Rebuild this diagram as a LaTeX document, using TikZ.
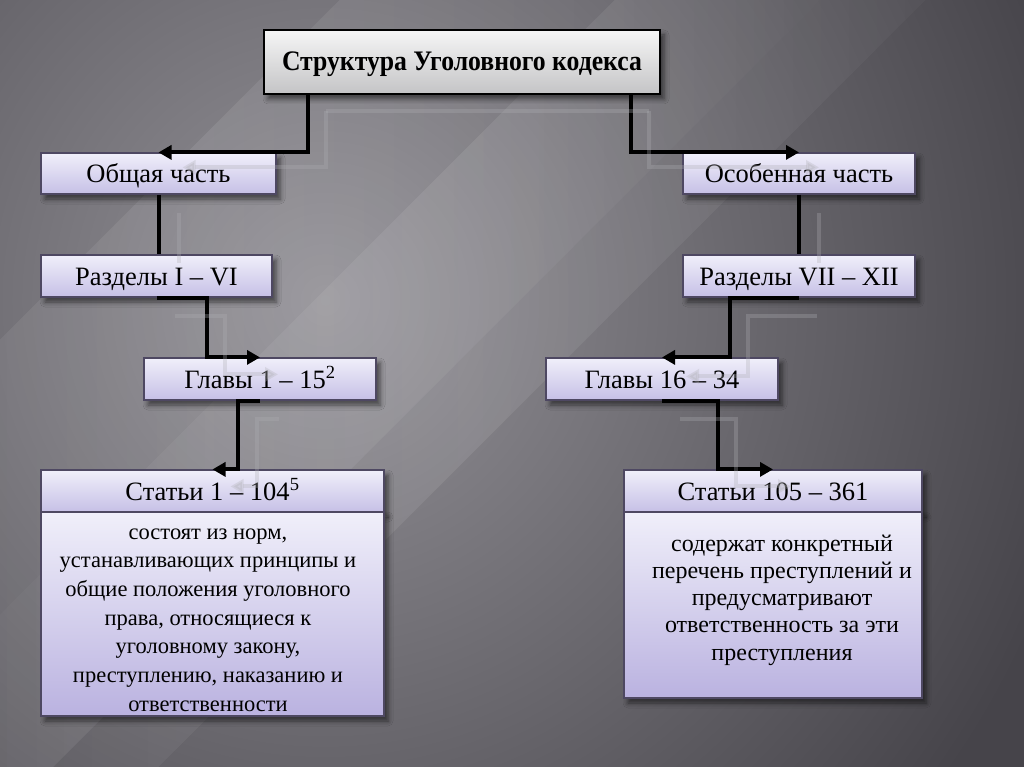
\documentclass[tikz,border=0pt]{standalone}
\usepackage{fontspec}
\setmainfont{Liberation Serif}
\usetikzlibrary{arrows.meta,shadows.blur,calc,fadings}
\definecolor{bgout}{RGB}{70,68,74}
\definecolor{bgin}{RGB}{148,146,152}
\definecolor{lavtop}{RGB}{240,239,250}
\definecolor{lavbot}{RGB}{198,192,230}
\definecolor{lavbot2}{RGB}{186,178,224}
\definecolor{boxedge}{RGB}{78,72,98}
\definecolor{shadline}{RGB}{175,175,180}
\definecolor{titletop}{RGB}{246,246,246}
\definecolor{titlebot}{RGB}{196,196,198}
\tikzfading[name=bandfade, left color=transparent!100, right color=transparent!100, middle color=transparent!91]
\begin{document}
\begin{tikzpicture}[x=1pt,y=-1pt,
  bshadow/.style={blur shadow={shadow xshift=4pt,shadow yshift=-5pt,shadow blur radius=5pt,shadow opacity=55}},
  lav/.style={draw=boxedge, line width=1.2pt, top color=lavtop, bottom color=lavbot, inner sep=0pt, text=black, font=\fontsize{26.5}{30}\selectfont, text height=24pt, text depth=6pt, bshadow},
  lavbody/.style={draw=boxedge, line width=1.2pt, top color=lavtop, bottom color=lavbot2, inner sep=0pt, bshadow},
  bodytext/.style={inner sep=0pt, text=black, align=center},
  titlebox/.style={draw=black, line width=2pt, top color=titletop, bottom color=titlebot, inner sep=0pt, font=\fontsize{25.7}{30}\selectfont\bfseries, text height=24pt, text depth=6pt, bshadow},
  conn/.style={line width=4pt, draw=black, line join=miter, -{Triangle[length=13pt,width=14pt]}},
  plainconn/.style={line width=4pt, draw=black},
  shad/.style={line width=4pt, draw=shadline, opacity=0.3, line join=miter, -{Triangle[length=13pt,width=14pt]}},
  shadplain/.style={line width=4pt, draw=shadline, opacity=0.3}
]
\useasboundingbox (0,0) rectangle (1024,767);
\begin{scope}
\clip (0,0) rectangle (1024,767);
\shade[inner color=bgin, outer color=bgout] (-450,-500) rectangle (1100,1100);
\begin{scope}[shift={(200,380)}, rotate=-45]
\fill[white, path fading=bandfade, fit fading=true] (-170,-800) rectangle (170,800);
\end{scope}
\begin{scope}[shift={(470,300)}, rotate=-45]
\fill[white, path fading=bandfade, fit fading=true] (-110,-800) rectangle (110,800);
\end{scope}
\end{scope}

% nodes
\node[titlebox, minimum width=396pt, minimum height=64pt] (title) at (462,62) {\scalebox{1}[1.1]{Структура Уголовного кодекса}};
\node[lav, minimum width=235pt, minimum height=41pt] (obsh) at (158.5,173.5) {Общая часть};
\node[lav, minimum width=232pt, minimum height=41pt] (osob) at (799,173.5) {Особенная часть};
\node[lav, minimum width=231pt, minimum height=42pt] (razL) at (156.5,276) {Разделы I – VI};
\node[lav, minimum width=232pt, minimum height=42pt] (razR) at (799,276) {Разделы VII – XII};
\node[lav, minimum width=232pt, minimum height=42pt] (glL) at (260,379) {Главы 1 – 15\textsuperscript{2}};
\node[lav, minimum width=232pt, minimum height=42pt] (glR) at (662,379) {Главы 16 – 34};
\node[lav, minimum width=343pt, minimum height=42pt] (stLh) at (212.5,491) {Статьи 1 – 104\textsuperscript{5}};
\node[lavbody, minimum width=343pt, minimum height=204pt] (stLb) at (212.5,614) {};
\node[bodytext, font=\fontsize{22.5}{28.7}\selectfont] (stLt) at (208,620) {состоят из норм,\\устанавливающих принципы и\\общие положения уголовного\\права, относящиеся к\\уголовному закону,\\преступлению, наказанию и\\ответственности};
\node[lav, minimum width=298pt, minimum height=42pt] (stRh) at (773,491) {Статьи 105 – 361};
\node[lavbody, minimum width=298pt, minimum height=186pt] (stRb) at (773,605) {};
\node[bodytext, font=\fontsize{24}{27.3}\selectfont] (stRt) at (782,600) {содержат конкретный\\перечень преступлений и\\предусматривают\\ответственность за эти\\преступления};

% connectors
\draw[conn] ([xshift=45pt]title.south west) |- (obsh.north);
\draw[conn] ([xshift=-30pt]title.south east) |- (osob.north);
\draw[plainconn] (obsh.south) -- (obsh.south |- razL.north);
\draw[plainconn] (osob.south) -- (osob.south |- razR.north);
\draw[conn] (razL.south) -- ++(50,0) |- (glL.north);
\draw[conn] (glL.south) -- ++(-22,0) |- (stLh.north);
\draw[conn] (razR.south) -- ++(-69,0) |- (glR.north);
\draw[conn] (glR.south) -- ++(56,0) |- (stRh.north);

% connector shadows
\coordinate (tsl) at ($(title.south west)+(63,16)$);
\coordinate (tsr) at ($(title.south east)+(-12,16)$);
\draw[shadplain] (tsl) -- (tsr);
\draw[shad] (tsl) |- ([shift={(24,15)}]obsh.north);
\draw[shad] (tsr) |- ([shift={(20,15)}]osob.north);
\draw[shadplain, shorten >=9pt] ([shift={(20,18)}]obsh.south) -- ([shift={(20,18)}]obsh.south |- razL.north);
\draw[shadplain, shorten >=9pt] ([shift={(20,18)}]osob.south) -- ([shift={(20,18)}]osob.south |- razR.north);
\draw[shad] ([shift={(18,18)}]razL.south) -- ++(50,0) |- ([shift={(18,17)}]glL.north);
\draw[shad] ([shift={(19,18)}]glL.south) -- ++(-22,0) |- ([shift={(18,17)}]stLh.north);
\draw[shad] ([shift={(18,18)}]razR.south) -- ++(-69,0) |- ([shift={(24,19)}]glR.north);
\draw[shad] ([shift={(18,18)}]glR.south) -- ++(56,0) |- ([shift={(18,17)}]stRh.north);
\end{tikzpicture}
\end{document}
